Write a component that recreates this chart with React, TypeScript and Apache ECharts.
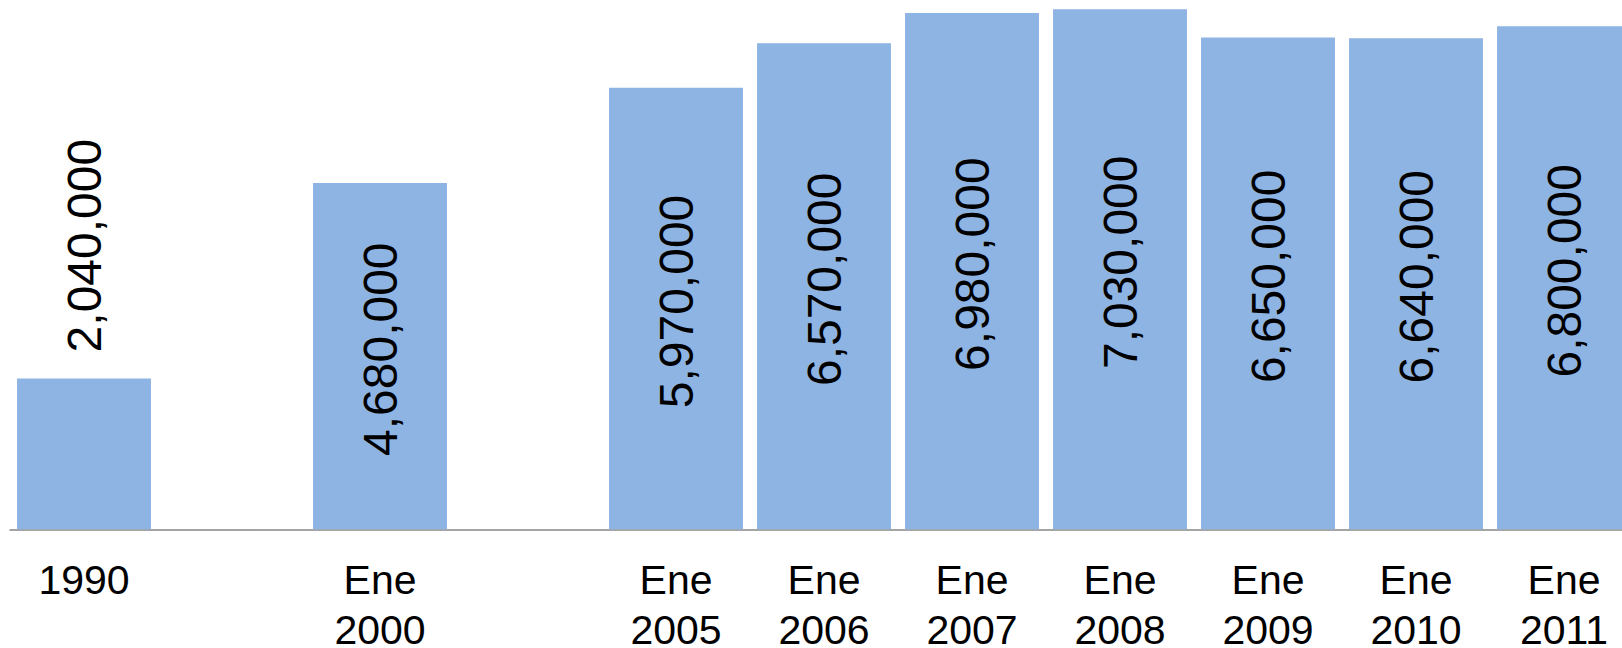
import React, { useEffect, useRef } from "react";
import * as echarts from "echarts";

const categories = ["1990", "", "Ene\n2000", "", "Ene\n2005", "Ene\n2006", "Ene\n2007", "Ene\n2008", "Ene\n2009", "Ene\n2010", "Ene\n2011"];
const values: (number | null)[] = [2040000, null, 4680000, null, 5970000, 6570000, 6980000, 7030000, 6650000, 6640000, 6800000];
const outsideLabelIndex = [0];

export default function App() {
  const ref = useRef<HTMLDivElement>(null);
  useEffect(() => {
    if (!ref.current) return;
    const chart = echarts.init(ref.current, null, { renderer: "svg" });
    const fmt = (v: number) => v.toLocaleString("en-US");
    const data = values.map((v, i) => {
      if (v === null) return "-";
      if (outsideLabelIndex.includes(i)) {
        return {
          value: v,
          label: { position: "top", align: "left", verticalAlign: "middle", distance: 26, offset: [0, 0] },
        };
      }
      return { value: v };
    });
    chart.setOption({
      animation: false,
      backgroundColor: "#ffffff",
      grid: { left: 10, right: -16, top: 4.1, bottom: 118.7, containLabel: false, outerBoundsMode: "none" },
      xAxis: {
        type: "category",
        data: categories,
        axisLine: { show: true, lineStyle: { color: "#878787", width: 1.5 } },
        axisTick: { show: false },
        axisLabel: {
          interval: 0,
          color: "#000000",
          fontFamily: "Liberation Sans, Arial, sans-serif",
          fontSize: 41,
          lineHeight: 50,
          margin: 26,
        },
      },
      yAxis: {
        type: "value",
        min: 0,
        max: 7100000,
        show: false,
        splitLine: { show: false },
      },
      series: [
        {
          type: "bar",
          data,
          barCategoryGap: "9.5%",
          itemStyle: { color: "#8EB4E3" },
          label: {
            show: true,
            position: "inside",
            rotate: 90,
            align: "center",
            verticalAlign: "middle",
            offset: [7, 0],
            color: "#000000",
            fontFamily: "Liberation Sans, Arial, sans-serif",
            fontSize: 48,
            formatter: (p: any) => fmt(p.value),
          },
        },
      ],
    });
    return () => chart.dispose();
  }, []);
  return <div ref={ref} style={{ position: "absolute", left: 0, top: 0, width: 1622, height: 648 }} />;
}
